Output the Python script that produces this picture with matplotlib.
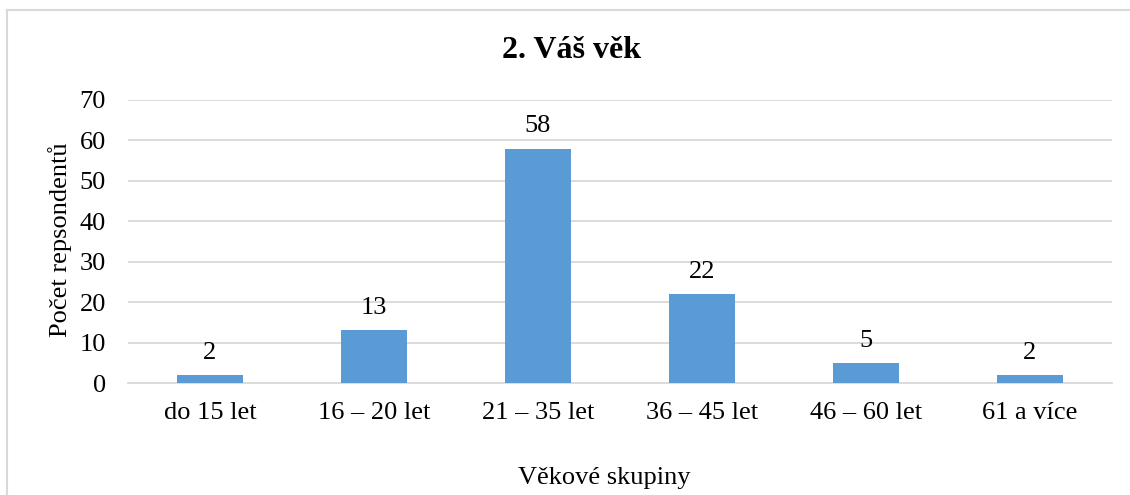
import matplotlib.pyplot as plt
from matplotlib.lines import Line2D

categories = ['do 15 let', '16 – 20 let', '21 – 35 let', '36 – 45 let', '46 – 60 let', '61 a více']
values = [2, 13, 58, 22, 5, 2]
yticks = [0, 10, 20, 30, 40, 50, 60, 70]

plt.rcParams['font.family'] = ['Liberation Serif', 'DejaVu Serif']

fig = plt.figure(figsize=(11.3, 4.95), dpi=100)
ax = fig.add_axes([128/1130, 1-383/495, (1112-128)/1130, 283/495])

x = range(len(categories))
bars = ax.bar(x, values, width=0.4, color='#5B9BD5', zorder=3)
for xi, v in zip(x, values):
    ax.annotate(str(v), (xi, v), xytext=(0, 8), textcoords='offset points',
                ha='center', va='bottom', fontsize=19)

ax.set_ylim(0, 70)
ax.set_xlim(-0.5, len(categories) - 0.5)
ax.set_yticks(yticks)
ax.set_xticks(list(x))
ax.set_xticklabels(categories)
ax.tick_params(axis='both', length=0, labelsize=19)
ax.tick_params(axis='y', pad=16)
ax.tick_params(axis='x', pad=14)
ax.grid(axis='y', color='#D9D9D9', linewidth=1.3, zorder=0)
for s in ['top', 'right', 'left']:
    ax.spines[s].set_visible(False)
ax.spines['bottom'].set_color('#D9D9D9')
ax.spines['bottom'].set_linewidth(1.3)

fig.text(572/1130, 1-50/495, '2. Váš věk', ha='center', va='center',
         fontsize=23, fontweight='bold')
fig.text(60/1130, 1-240/495, 'Počet repsondentů', ha='center', va='center',
         rotation=90, fontsize=19)
fig.text(604/1130, 1-478/495, 'Věkové skupiny', ha='center', va='center', fontsize=19)

# chart border (left and top edges visible)
fig.add_artist(Line2D([7/1130, 7/1130], [0, 1-10/495], color='#D9D9D9', linewidth=1.5))
fig.add_artist(Line2D([7/1130, 1], [1-10/495, 1-10/495], color='#D9D9D9', linewidth=1.5))

fig.savefig('out.png', dpi=100)
